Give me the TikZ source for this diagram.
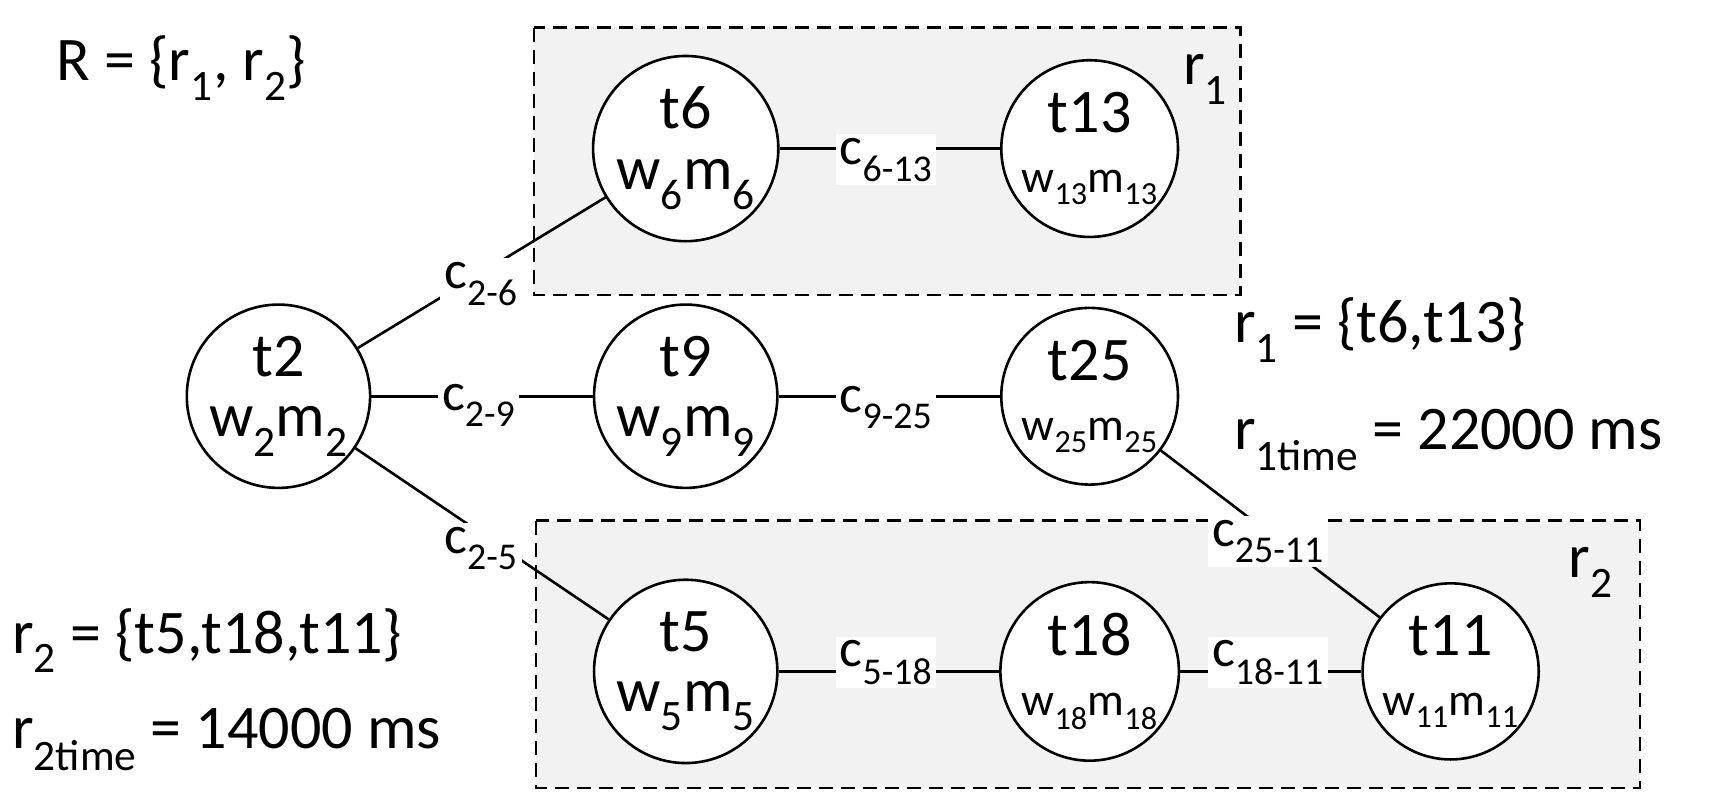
\documentclass[tikz,border=0pt]{standalone}
\usepackage{fontspec}
\setmainfont{Carlito}
\newcommand{\sbs}[1]{\textsubscript{#1}}
\begin{document}
\begin{tikzpicture}[x=1.1pt,y=-1.1pt,
 tn/.style={circle,draw,line width=2.6pt,minimum size=176pt,inner sep=0pt,fill=white,align=center,font=\fontsize{62}{60}\selectfont},
 cl/.style={fill=white,inner sep=4pt,font=\fontsize{54}{56}\selectfont},
 rbox/.style={draw,line width=2.6pt,fill=gray!10,dash pattern=on 14pt off 8pt},
 big/.style={font=\fontsize{62}{64}\selectfont},
 ln/.style={line width=2.6pt}]
\useasboundingbox (0,0) rectangle (1560,734);
\draw[rbox] (485,25) rectangle (1127,268);
\draw[rbox] (487,473) rectangle (1490,716);
\node[tn] (t2) at (253,360) {t2\\w\sbs{2}m\sbs{2}};
\node[tn] (t6) at (623,135) {t6\\w\sbs{6}m\sbs{6}};
\node[tn] (t13) at (990,135) {t13\\{\fontsize{46}{50}\selectfont w\sbs{13}m\sbs{13}}};
\node[tn] (t9) at (623,360) {t9\\w\sbs{9}m\sbs{9}};
\node[tn] (t25) at (990,360) {t25\\{\fontsize{46}{50}\selectfont w\sbs{25}m\sbs{25}}};
\node[tn] (t5) at (623,610) {t5\\w\sbs{5}m\sbs{5}};
\node[tn] (t18) at (990,610) {t18\\{\fontsize{46}{50}\selectfont w\sbs{18}m\sbs{18}}};
\node[tn] (t11) at (1318,610) {t11\\{\fontsize{46}{50}\selectfont w\sbs{11}m\sbs{11}}};
\draw[ln] (t2) -- (t6);
\draw[ln] (t2) -- (t9);
\draw[ln] (t2) -- (t5);
\draw[ln] (t6) -- (t13);
\draw[ln] (t9) -- (t25);
\draw[ln] (t25) -- (t11);
\draw[ln] (t5) -- (t18);
\draw[ln] (t18) -- (t11);
\node[cl] (c26) at (437,258) {c\sbs{2-6}};
\node[cl] (c29) at (435,368) {c\sbs{2-9}};
\node[cl] (c25) at (437,498) {c\sbs{2-5}};
\node[cl] (c613) at (805,145) {c\sbs{6-13}};
\node[cl] (c925) at (805,370) {c\sbs{9-25}};
\node[cl] (c2511) at (1152,492) {c\sbs{25-11}};
\node[cl] (c518) at (805,602) {c\sbs{5-18}};
\node[cl] (c1811) at (1152,602) {c\sbs{18-11}};
\node[big] (R) at (165,62) {R = \{r\sbs{1}, r\sbs{2}\}};
\node[big] (r1l) at (1095,72) {r\sbs{1}};
\node[big] (r2l) at (1445,520) {r\sbs{2}};
\node[big,anchor=west] (r1s) at (1118,300) {r\sbs{1} = \{t6,t13\}};
\node[big,anchor=west] (r1t) at (1118,400) {r\sbs{1time} = 22000 ms};
\node[big,anchor=west] (r2s) at (8,582) {r\sbs{2} = \{t5,t18,t11\}};
\node[big,anchor=west] (r2t) at (8,672) {r\sbs{2time} = 14000 ms};
\end{tikzpicture}
\end{document}
